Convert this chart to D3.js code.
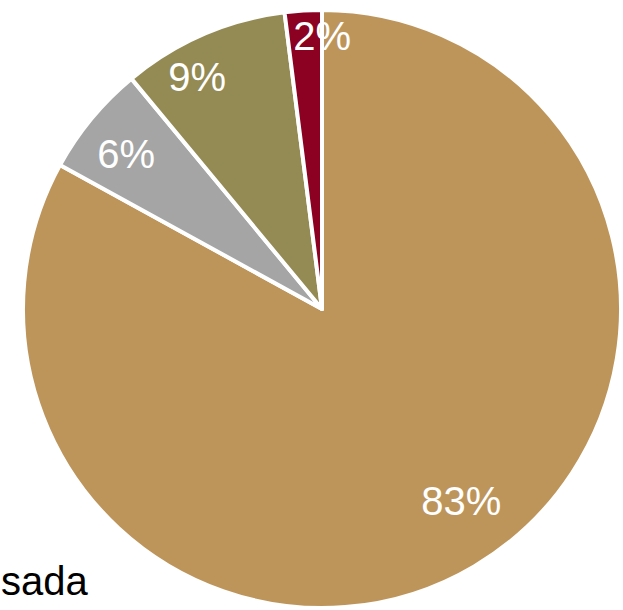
<!DOCTYPE html>
<html>
<head>
<meta charset="utf-8">
<script src="https://cdn.jsdelivr.net/npm/d3@7/dist/d3.min.js"></script>
<style>
  html, body { margin: 0; padding: 0; background: #fff; overflow: hidden; }
  svg { display: block; }
</style>
</head>
<body>
<svg id="chart" width="623" height="610"></svg>
<script>
const categories = ["A", "B", "C", "D"];
const values = [83, 6, 9, 2];
const labels = ["83%", "6%", "9%", "2%"];
const colors = ["#BD955B", "#A5A5A5", "#948A54", "#8C0021"];
const legendText = "sada";

const svg = d3.select("#chart");
const cx = 322, cy = 309, R = 299;

const pie = d3.pie().sort(null).value(d => d.v);
const data = categories.map((c, i) => ({ c, v: values[i], label: labels[i], color: colors[i] }));
const arcs = pie(data);

const arc = d3.arc().innerRadius(0).outerRadius(R);
const g = svg.append("g").attr("transform", `translate(${cx},${cy})`);

g.selectAll("path").data(arcs).enter().append("path")
  .attr("d", arc)
  .attr("fill", d => d.data.color)
  .attr("stroke", "#fff")
  .attr("stroke-width", 4)
  .attr("stroke-linejoin", "round");

// data-label placement nudges (Excel best-fit style), relative to the arc centroid
const labelNudge = [[10, -27], [0, 7], [-24, 1], [16, -20]];
const labelArc = d3.arc().innerRadius(R * 0.85).outerRadius(R * 0.85);
g.selectAll("text.lbl").data(arcs).enter().append("text")
  .attr("class", "lbl")
  .attr("transform", (d, i) => {
    const [x, y] = labelArc.centroid(d);
    return `translate(${x + labelNudge[i][0]},${y + labelNudge[i][1]})`;
  })
  .attr("text-anchor", "middle")
  .attr("dy", "0.36em")
  .attr("fill", "#fff")
  .attr("font-family", "Liberation Sans, Arial, sans-serif")
  .attr("font-size", 40)
  .text(d => d.data.label);

svg.append("text")
  .attr("x", 1).attr("y", 595)
  .attr("text-anchor", "start")
  .attr("fill", "#000")
  .attr("font-family", "Liberation Sans, Arial, sans-serif")
  .attr("font-size", 40)
  .text(legendText);
</script>
</body>
</html>
